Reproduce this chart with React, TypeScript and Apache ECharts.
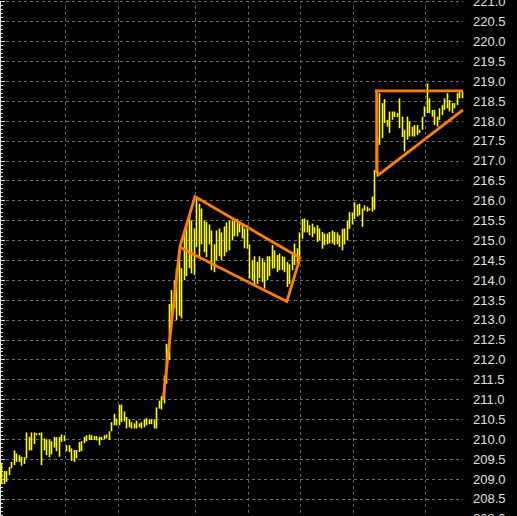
import React, { useEffect, useRef } from "react";
import * as echarts from "echarts";

// Bar lows / highs (one entry per bar, left to right)
const lows = [
  208.87, 208.87, 208.93, 209.1, 209.27, 209.35, 209.43, 209.43, 209.33, 209.38,
  209.52, 209.72, 209.72, 209.88, 210.1, 210.1, 209.35, 209.72, 209.6, 209.55,
  209.62, 209.79, 209.7, 209.56, 209.93, 209.95, 209.7, 209.68, 209.46, 209.43,
  209.52, 209.68, 209.7, 209.9, 209.95, 209.98, 209.98, 209.98, 209.97, 209.85,
  209.98, 210.0, 210.02, 209.98, 210.2, 210.35, 210.35, 210.35, 210.43, 210.45,
  210.27, 210.3, 210.27, 210.27, 210.27, 210.3, 210.27, 210.3, 210.35, 210.38,
  210.38, 210.27, 210.27, 210.77, 210.75, 210.9, 211.4, 212.0, 212.9, 213.3,
  213.0, 213.1, 213.04, 214.0, 214.1, 214.3, 214.17, 214.13, 214.83, 214.58,
  214.9, 214.7, 214.58, 214.9, 214.25, 214.2, 214.5, 214.6, 214.5, 214.6,
  214.7, 214.75, 215.0, 215.1, 215.1, 215.2, 215.05, 214.8, 214.79, 214.04,
  214.0, 213.88, 213.9, 214.05, 213.95, 213.79, 214.0, 214.1, 214.29, 214.3,
  214.2, 214.25, 214.25, 214.2, 213.83, 213.9, 214.25, 214.38, 214.4, 214.5,
  215.04, 215.2, 215.2, 215.13, 215.08, 215.17, 214.96, 215.0, 214.79, 214.88,
  214.9, 214.92, 214.92, 214.88, 214.9, 214.83, 214.75, 214.9, 215.0, 215.29,
  215.4, 215.54, 215.6, 215.63, 215.34, 215.75, 215.72, 215.75, 215.72, 215.77,
  216.6, 217.4, 217.57, 217.95, 217.86, 217.7, 218.03, 218.1, 218.1, 217.82,
  217.6, 217.24, 217.53, 217.61, 217.61, 217.61, 217.65, 217.7, 217.78, 218.11,
  218.2, 218.2, 218.11, 217.9, 217.86, 218.03, 218.15, 218.28, 218.32, 218.24,
  218.2, 218.32, 218.4, 218.57, 218.57,
];
const highs = [
  209.4, 209.2, 209.2, 209.3, 209.43, 209.72, 209.64, 209.6, 209.56, 209.55,
  210.17, 210.06, 210.17, 210.17, 210.15, 210.16, 210.17, 210.02, 210.0, 209.98,
  209.95, 210.06, 210.05, 210.06, 210.12, 210.1, 209.85, 209.85, 209.77, 209.73,
  209.73, 209.93, 209.95, 210.06, 210.1, 210.12, 210.1, 210.08, 210.08, 210.06,
  210.06, 210.1, 210.12, 210.2, 210.43, 210.64, 210.52, 210.87, 210.87, 210.7,
  210.56, 210.5, 210.43, 210.4, 210.47, 210.4, 210.43, 210.5, 210.53, 210.5,
  210.5, 210.5, 210.8, 210.97, 211.08, 211.6, 212.4, 213.4, 213.75, 214.0,
  214.3, 214.75, 214.3, 215.25, 215.42, 215.67, 215.5, 215.3, 216.08, 215.92,
  215.8, 215.5, 215.46, 215.4, 215.25, 214.9, 215.25, 215.3, 215.2, 215.35,
  215.45, 215.5, 215.5, 215.55, 215.54, 215.46, 215.4, 215.3, 215.38, 214.9,
  214.5, 214.6, 214.46, 214.6, 214.55, 214.46, 214.6, 214.6, 214.88, 214.75,
  214.63, 214.67, 214.6, 214.58, 214.46, 214.4, 214.63, 214.92, 214.8, 215.2,
  215.54, 215.55, 215.5, 215.38, 215.42, 215.33, 215.38, 215.3, 215.21, 215.17,
  215.17, 215.21, 215.25, 215.21, 215.2, 215.13, 215.29, 215.3, 215.5, 215.71,
  215.7, 215.96, 215.9, 215.92, 215.8, 215.88, 215.85, 215.8, 216.1, 216.77,
  217.6, 218.7, 218.45, 218.55, 218.03, 218.24, 218.24, 218.24, 218.2, 218.57,
  218.11, 217.78, 218.11, 217.99, 217.86, 217.9, 217.9, 217.78, 218.11, 218.37,
  218.95, 218.57, 218.28, 218.28, 218.11, 218.32, 218.4, 218.57, 218.7, 218.53,
  218.45, 218.45, 218.7, 218.78, 218.74,
];

const lastPrice = 218.67;
// Session separators (bar positions)
const sessionBreaks = [26, 47.2, 77.9, 99.1, 119.9, 141, 169.8];
// Hand-drawn pattern lines: [barPosition, price]
const flagLine = [
  [65.2, 211.0], [71.9, 214.84], [77.9, 216.1], [119.9, 214.56],
  [114.6, 213.46], [73.2, 214.78], [71.9, 214.84],
];
const triangleLine = [
  [185, 218.76], [149.8, 218.76], [150.5, 218.76], [150.5, 216.72],
  [151.5, 216.66], [185, 218.28],
];

const N = lows.length;

export default function App() {
  const ref = useRef<HTMLDivElement>(null);
  useEffect(() => {
    document.body.style.margin = "0";
    const chart = echarts.init(ref.current!, null, { renderer: "svg" });
    const barData = lows.map((lo, i) => [i + 0.5, lo, highs[i]]);
    chart.setOption({
      animation: false,
      backgroundColor: "#000000",
      grid: {
        left: 0,
        right: 54,
        top: 1.7,
        bottom: -2.8,
        containLabel: false,
        outerBoundsMode: "none",
      },
      xAxis: {
        type: "value",
        min: 0,
        max: N,
        show: false,
        splitLine: { show: false },
      },
      yAxis: {
        type: "value",
        position: "right",
        min: 208,
        max: 221,
        interval: 0.5,
        axisLine: { show: true, lineStyle: { color: "#e0e0e0", width: 1 } },
        axisTick: { show: true, length: 5, lineStyle: { color: "#e0e0e0" } },
        minorTick: { show: true, splitNumber: 5, length: 3, lineStyle: { color: "#e0e0e0" } },
        axisLabel: {
          color: "#e0e0e0",
          fontSize: 13,
          fontFamily: "Liberation Sans, Arial, sans-serif",
          margin: 10,
          formatter: (v: number) => v.toFixed(1),
        },
        splitLine: { show: true, lineStyle: { color: "#6a6a6a", type: [3, 3], width: 1 } },
      },
      series: [
        {
          type: "custom",
          renderItem: (params: any, api: any) => {
            const x = api.value(0);
            const p1 = api.coord([x, api.value(1)]);
            const p2 = api.coord([x, api.value(2)]);
            const px = Math.round(p1[0]) + 0.5;
            return {
              type: "line",
              shape: { x1: px, y1: p1[1], x2: px, y2: p2[1] },
              style: { stroke: "#ffff00", lineWidth: 1.6 },
            };
          },
          encode: { x: 0, y: [1, 2] },
          data: barData,
          silent: true,
          markLine: {
            silent: true,
            symbol: "none",
            animation: false,
            label: { show: false },
            lineStyle: { color: "#6a6a6a", type: [3, 3], width: 1 },
            data: sessionBreaks.map((b) => ({ xAxis: b })),
          },
          z: 3,
        },
        {
          type: "lines",
          coordinateSystem: "cartesian2d",
          polyline: true,
          silent: true,
          lineStyle: { color: "#ff8000", width: 2.8, opacity: 1 },
          data: [{ coords: flagLine }, { coords: triangleLine }],
          z: 4,
        },
        {
          type: "line",
          data: [],
          silent: true,
          markLine: {
            silent: true,
            symbol: "none",
            animation: false,
            lineStyle: { opacity: 0, width: 0 },
            label: {
              show: true,
              position: "end",
              distance: 7,
              formatter: () => lastPrice.toFixed(2),
              color: "#ffff00",
              fontSize: 13,
              fontFamily: "Liberation Sans, Arial, sans-serif",
              backgroundColor: "#000000",
              borderColor: "#e0e0e0",
              borderWidth: 1,
              padding: [2, 4, 2, 3],
            },
            data: [{ yAxis: lastPrice }],
          },
          z: 5,
        },
      ],
    });
    return () => chart.dispose();
  }, []);
  return <div ref={ref} style={{ width: 517, height: 516 }} />;
}
